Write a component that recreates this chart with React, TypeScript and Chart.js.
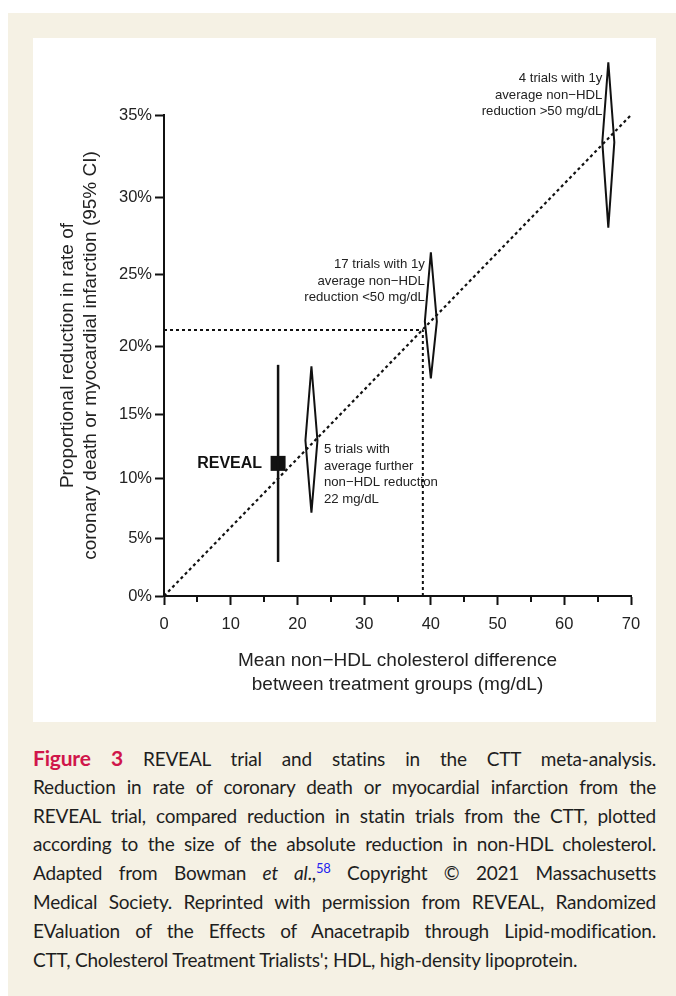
import React, { useEffect, useRef } from 'react';
import { Chart, registerables } from 'chart.js';

Chart.register(...registerables);

// ---- Data ----
const xTickValues = [0, 10, 20, 30, 40, 50, 60, 70];
const xMinorTickValues = [5, 15, 25, 35, 45, 55, 65];
const yTickPercents = [0, 5, 10, 15, 20, 25, 30, 35];
const yTickLabels = ['0%', '5%', '10%', '15%', '20%', '25%', '30%', '35%'];

const trendX = [0, 70];
const trendPct = [0, 35];

const guideX = 38.8;
const guidePct = 21.2;

const diamondX = [22.1, 40.0, 66.6];
const diamondLowPct = [7.2, 17.7, 28.1];
const diamondMidPct = [13.0, 21.8, 33.4];
const diamondHighPct = [18.6, 26.5, 38.0];

const revealX = 17.1;
const revealPct = 11.2;
const revealLowPct = 3.0;
const revealHighPct = 18.7;

const noteLines = [
  ['5 trials with', 'average further', 'non\u2212HDL reduction', '22 mg/dL'],
  ['17 trials with 1y', 'average non\u2212HDL', 'reduction <50 mg/dL'],
  ['4 trials with 1y', 'average non\u2212HDL', 'reduction >50 mg/dL'],
];
const noteAnchorPct = [12.3, 25.7, 37.1];

const yTitle = ['Proportional reduction in rate of', 'coronary death or myocardial infarction (95% CI)'];
const xTitle = ['Mean non\u2212HDL cholesterol difference', 'between treatment groups (mg/dL)'];

// ---- Styles ----
const INK = '#111111';
const TEXT = '#222222';
const FONT = '"Liberation Sans", Arial, sans-serif';
const DIAMOND_HALF_W = 0.9;

// proportional reduction is plotted on a log(risk ratio) scale
const toScale = (pct: number) => -Math.log(1 - pct / 100);

const overlayPlugin = {
  id: 'overlay',
  afterDraw(chart: any) {
    const { ctx, chartArea, scales } = chart;
    const x = scales.x;
    const y = scales.y;
    ctx.save();
    ctx.strokeStyle = INK;
    ctx.lineWidth = 2;
    xMinorTickValues.forEach((v) => {
      const px = Math.round(x.getPixelForValue(v));
      ctx.beginPath();
      ctx.moveTo(px, chartArea.bottom);
      ctx.lineTo(px, chartArea.bottom + 6);
      ctx.stroke();
    });
    ctx.fillStyle = TEXT;
    ctx.textBaseline = 'middle';
    ctx.font = `13.2px ${FONT}`;
    noteLines.forEach((lines, i) => {
      const leftAligned = i === 0;
      const px = x.getPixelForValue(diamondX[i]) + (leftAligned ? 12.5 : -6);
      const py = y.getPixelForValue(toScale(noteAnchorPct[i]));
      ctx.textAlign = leftAligned ? 'left' : 'right';
      lines.forEach((t, j) => ctx.fillText(t, px, py + j * 16.7));
    });
    ctx.font = `bold 16px ${FONT}`;
    ctx.textAlign = 'right';
    ctx.fillStyle = INK;
    ctx.fillText('REVEAL', x.getPixelForValue(revealX) - 16, y.getPixelForValue(toScale(revealPct)));
    ctx.restore();
  },
};

function ChartPanel() {
  const ref = useRef<HTMLCanvasElement | null>(null);
  useEffect(() => {
    if (!ref.current) return;
    const lineBase = { showLine: true, pointRadius: 0, borderColor: INK, fill: false, tension: 0, clip: false as any };
    const diamonds = diamondX.map((cx, i) => ({
      ...lineBase,
      borderWidth: 2,
      borderJoinStyle: 'miter' as const,
      data: [
        { x: cx, y: toScale(diamondLowPct[i]) },
        { x: cx + DIAMOND_HALF_W, y: toScale(diamondMidPct[i]) },
        { x: cx, y: toScale(diamondHighPct[i]) },
        { x: cx - DIAMOND_HALF_W, y: toScale(diamondMidPct[i]) },
        { x: cx, y: toScale(diamondLowPct[i]) },
      ],
    }));
    const chart = new Chart(ref.current, {
      type: 'scatter',
      data: {
        datasets: [
          {
            ...lineBase,
            borderWidth: 2.2,
            borderDash: [3, 3],
            data: trendX.map((v, i) => ({ x: v, y: toScale(trendPct[i]) })),
          },
          {
            ...lineBase,
            borderWidth: 2,
            borderDash: [3, 3],
            data: [
              { x: 0, y: toScale(guidePct) },
              { x: guideX, y: toScale(guidePct) },
            ],
          },
          {
            ...lineBase,
            borderWidth: 2,
            borderDash: [3, 3],
            data: [
              { x: guideX, y: 0 },
              { x: guideX, y: toScale(guidePct) },
            ],
          },
          ...diamonds,
          {
            ...lineBase,
            borderWidth: 2.5,
            data: [
              { x: revealX, y: toScale(revealLowPct) },
              { x: revealX, y: toScale(revealHighPct) },
            ],
          },
          {
            showLine: false,
            pointStyle: 'rect',
            pointRadius: 10.6,
            pointBackgroundColor: INK,
            pointBorderColor: INK,
            pointBorderWidth: 0,
            data: [{ x: revealX, y: toScale(revealPct) }],
          } as any,
        ],
      },
      options: {
        responsive: false,
        animation: false,
        devicePixelRatio: 1,
        layout: { padding: { top: 77, right: 25, left: 0, bottom: 0 } },
        plugins: { legend: { display: false }, tooltip: { enabled: false } },
        events: [],
        scales: {
          x: {
            type: 'linear',
            min: 0,
            max: 70,
            afterBuildTicks: (scale: any) => {
              scale.ticks = xTickValues.map((v) => ({ value: v }));
            },
            afterFit: (scale: any) => {
              scale.height = 126;
            },
            grid: { display: true, drawOnChartArea: false, drawTicks: true, tickLength: 9, tickColor: INK, tickWidth: 2, color: INK },
            border: { display: true, color: INK, width: 2 },
            ticks: { color: TEXT, font: { family: FONT, size: 16.5 }, padding: 10, maxRotation: 0 },
            title: {
              display: true,
              text: xTitle,
              color: TEXT,
              font: { family: FONT, size: 19, lineHeight: 1.23 },
              padding: { top: 0, bottom: 26 },
            },
          },
          y: {
            type: 'linear',
            min: 0,
            max: toScale(yTickPercents[yTickPercents.length - 1]),
            afterBuildTicks: (scale: any) => {
              scale.ticks = yTickPercents.map((p) => ({ value: toScale(p) }));
            },
            afterFit: (scale: any) => {
              scale.width = 131;
            },
            grid: { display: true, drawOnChartArea: false, drawTicks: true, tickLength: 9, tickColor: INK, tickWidth: 2, color: INK },
            border: { display: true, color: INK, width: 2 },
            ticks: {
              color: TEXT,
              font: { family: FONT, size: 16.5 },
              padding: 3,
              callback: (_v: any, index: number) => yTickLabels[index],
            },
            title: {
              display: true,
              text: yTitle,
              color: TEXT,
              font: { family: FONT, size: 19, lineHeight: 1.18 },
              padding: { top: 24, bottom: 0 },
            },
          },
        },
      } as any,
      plugins: [overlayPlugin],
    });
    return () => chart.destroy();
  }, []);
  return <canvas ref={ref} width={623} height={684} style={{ display: 'block' }} />;
}

const captionLine: React.CSSProperties = {
  whiteSpace: 'nowrap',
  textAlign: 'justify',
  textAlignLast: 'justify' as any,
  height: 28.8,
};

export default function App() {
  return (
    <div
      style={{
        position: 'absolute',
        left: 8,
        top: 13,
        width: 668,
        height: 983,
        overflow: 'hidden',
        background: '#f5f1e4',
      }}
    >
      <div style={{ position: 'absolute', left: 25, top: 25, width: 623, height: 684, background: '#ffffff' }}>
        <ChartPanel />
      </div>
      <div
        style={{
          position: 'absolute',
          left: 25,
          top: 731,
          width: 623,
          fontFamily: 'Lato, "Open Sans", sans-serif',
          fontSize: 19,
          lineHeight: '28.8px',
          color: '#1e1e1e',
          letterSpacing: '-0.2px',
        }}
      >
        <div style={captionLine}>
          <span style={{ color: '#d0164a', fontWeight: 700, fontSize: 21 }}>Figure 3</span> REVEAL trial and statins in the CTT meta-analysis.
        </div>
        <div style={captionLine}>Reduction in rate of coronary death or myocardial infarction from the</div>
        <div style={captionLine}>REVEAL trial, compared reduction in statin trials from the CTT, plotted</div>
        <div style={captionLine}>according to the size of the absolute reduction in non-HDL cholesterol.</div>
        <div style={captionLine}>
          Adapted from Bowman <i>et al</i>.,<sup style={{ color: '#2222ee', fontSize: 13, lineHeight: 0 }}>58</sup> Copyright © 2021 Massachusetts
        </div>
        <div style={captionLine}>Medical Society. Reprinted with permission from REVEAL, Randomized</div>
        <div style={captionLine}>EValuation of the Effects of Anacetrapib through Lipid-modification.</div>
        <div style={{ ...captionLine, textAlignLast: 'left' as any }}>
          CTT, Cholesterol Treatment Trialists'; HDL, high-density lipoprotein.
        </div>
      </div>
    </div>
  );
}
